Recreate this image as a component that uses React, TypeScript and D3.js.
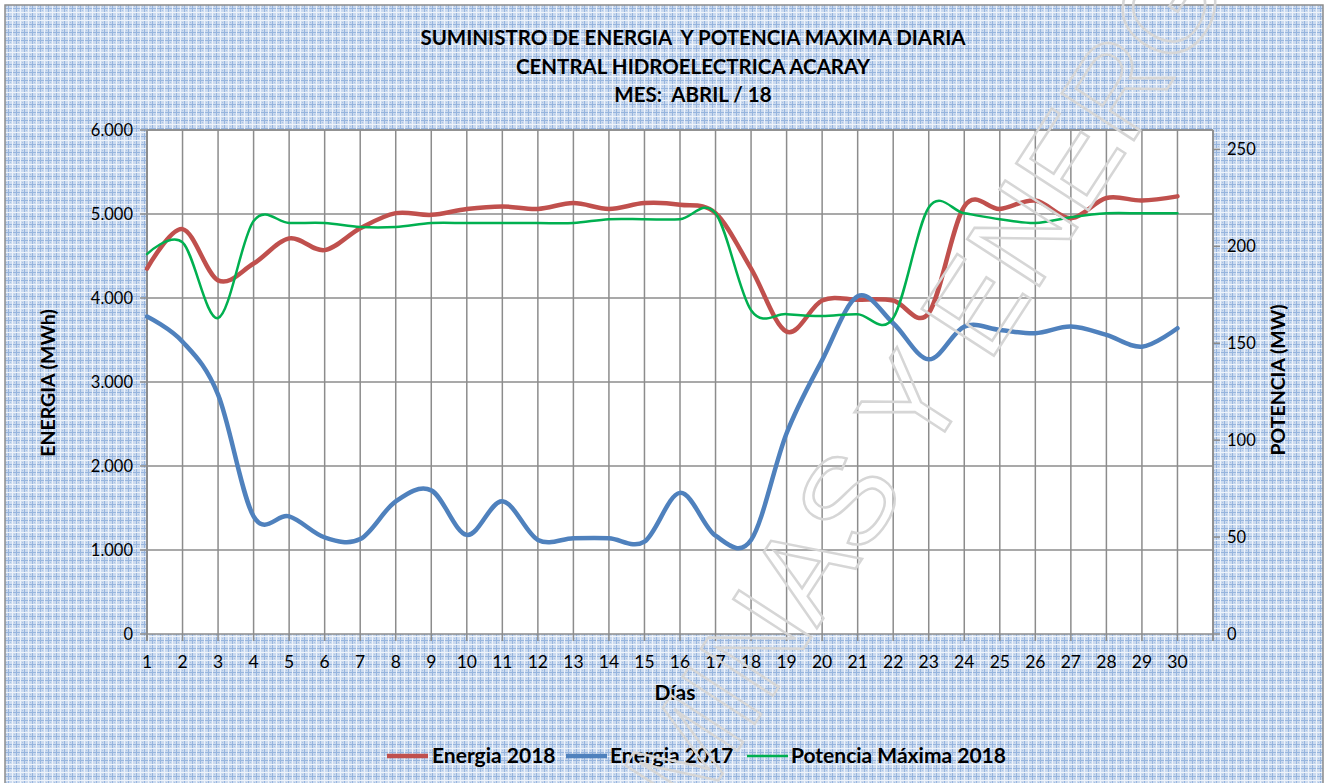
import React from 'react';
import * as d3 from 'd3';

const width = 1329;
const height = 783;

const margin = { left: 147, top: 130, right: 1213, bottom: 634 };

const days = [1, 2, 3, 4, 5, 6, 7, 8, 9, 10, 11, 12, 13, 14, 15, 16, 17, 18, 19, 20, 21, 22, 23, 24, 25, 26, 27, 28, 29, 30];

const energia2018 = [4350, 4820, 4210, 4410, 4710, 4570, 4830, 5010, 4990, 5060, 5090, 5060, 5130, 5060, 5130, 5110, 5010, 4350, 3600, 3970, 3980, 3970, 3820, 5090, 5060, 5160, 4950, 5190, 5160, 5210];
const energia2017 = [3780, 3480, 2850, 1400, 1400, 1150, 1130, 1580, 1710, 1180, 1580, 1120, 1140, 1140, 1100, 1680, 1170, 1120, 2390, 3260, 4020, 3700, 3270, 3660, 3620, 3580, 3660, 3560, 3420, 3640];
const potencia2018 = [196, 202, 163, 213, 212, 212, 210, 210, 212, 212, 212, 212, 212, 214, 214, 214, 217, 167, 165, 164, 165, 163, 220, 217, 214, 212, 215, 217, 217, 217];

const leftTicks = [0, 1000, 2000, 3000, 4000, 5000, 6000];
const rightTicks = [0, 50, 100, 150, 200, 250];

const titleLines = [
  'SUMINISTRO DE ENERGIA  Y POTENCIA MAXIMA DIARIA',
  'CENTRAL HIDROELECTRICA ACARAY',
  'MES:  ABRIL / 18',
];

const font = 'Lato, "Open Sans", sans-serif';

const x = d3.scaleLinear().domain([1, 31]).range([margin.left, margin.right]);
const yL = d3.scaleLinear().domain([0, 6000]).range([margin.bottom, margin.top]);
const yR = d3.scaleLinear().domain([0, 260]).range([margin.bottom, margin.top]);

const fmt = d3.formatLocale({ decimal: ',', thousands: '.', grouping: [3], currency: ['', ''] }).format(',');

const curve = d3.curveCatmullRom.alpha(0);

const lineL = d3.line<number>().x((_, i) => x(days[i])).y((d) => yL(d)).curve(curve);
const lineR = d3.line<number>().x((_, i) => x(days[i])).y((d) => yR(d)).curve(curve);

const series = [
  { name: 'Energia 2018', color: '#C0504D', width: 4.5, lx: 387, tx: 432 },
  { name: 'Energia 2017', color: '#4F81BD', width: 4.5, lx: 566, tx: 610 },
  { name: 'Potencia Máxima 2018', color: '#00B050', width: 2.5, lx: 747, tx: 791 },
];

const gridX = d3.range(1, 32);

const App = () => {
  return (
    <svg width={width} height={height} style={{ position: 'absolute', left: 0, top: 0 }}>
      <defs>
        <pattern id="bg" width="8" height="8" patternUnits="userSpaceOnUse">
          <rect width="8" height="8" fill="#cbdaef" />
          <rect x="0" y="0" width="1" height="8" fill="#97b5de" />
          <rect x="0" y="0" width="8" height="1" fill="#97b5de" />
          <rect x="4" y="0" width="1" height="8" fill="#eef3fa" />
          <rect x="0" y="4" width="8" height="1" fill="#eef3fa" />
          <rect x="2" y="2" width="1" height="1" fill="#a9c2e4" />
          <rect x="6" y="6" width="1" height="1" fill="#a9c2e4" />
        </pattern>
      </defs>
      <rect x={0} y={0} width={width} height={height} fill="#ffffff" />
      <rect x={5} y={5} width={1318} height={800} fill="url(#bg)" stroke="#8c8c8c" strokeWidth={1.5} />

      {/* title */}
      {titleLines.map((t, i) => (
        <text key={i} x={693} y={45 + i * 28.5} textAnchor="middle" fontFamily={font} fontWeight="bold"
          fontSize={20.5} fill="#000" style={{ whiteSpace: 'pre' }}>{t}</text>
      ))}

      {/* plot area */}
      <rect x={margin.left} y={margin.top} width={margin.right - margin.left} height={margin.bottom - margin.top} fill="#fff" />
      {gridX.map((d) => (
        <line key={'gx' + d} x1={x(d)} x2={x(d)} y1={margin.top} y2={margin.bottom + 7} stroke="#8c8c8c" strokeWidth={1.5} />
      ))}
      {leftTicks.map((d) => (
        <line key={'gy' + d} x1={margin.left - 7} x2={margin.right} y1={yL(d)} y2={yL(d)} stroke="#8c8c8c" strokeWidth={1.5} />
      ))}
      <line x1={margin.left} x2={margin.right} y1={margin.top} y2={margin.top} stroke="#8c8c8c" strokeWidth={1.5} />
      <line x1={margin.left} x2={margin.left} y1={margin.top} y2={margin.bottom + 7} stroke="#8c8c8c" strokeWidth={2} />
      <line x1={margin.right} x2={margin.right} y1={margin.top} y2={margin.bottom + 7} stroke="#8c8c8c" strokeWidth={1.5} />
      {rightTicks.map((d) => (
        <line key={'rt' + d} x1={margin.right} x2={margin.right + 7} y1={yR(d)} y2={yR(d)} stroke="#8c8c8c" strokeWidth={1.5} />
      ))}

      {/* axis labels */}
      {leftTicks.map((d) => (
        <text key={'lt' + d} x={133} y={yL(d) + 5.5} textAnchor="end" fontFamily={font} fontSize={16.5} fill="#000">{fmt(d)}</text>
      ))}
      {rightTicks.map((d) => (
        <text key={'rl' + d} x={1227} y={yR(d) + 5.5} fontFamily={font} fontSize={16.5} fill="#000">{d}</text>
      ))}
      {days.map((d) => (
        <text key={'xl' + d} x={x(d)} y={668} textAnchor="middle" fontFamily={font} fontSize={17.5} fill="#000">{d}</text>
      ))}

      <text transform="translate(55,383) rotate(-90)" textAnchor="middle" fontFamily={font} fontWeight="bold" fontSize={19.5} fill="#000">ENERGIA (MWh)</text>
      <text transform="translate(1285,380) rotate(-90)" textAnchor="middle" fontFamily={font} fontWeight="bold" fontSize={19.5} fill="#000">POTENCIA (MW)</text>
      <text x={675} y={700} textAnchor="middle" fontFamily={font} fontWeight="bold" fontSize={21} fill="#000">Días</text>

      {/* series */}
      <path d={lineL(energia2018) ?? ''} fill="none" stroke={series[0].color} strokeWidth={series[0].width} strokeLinecap="round" />
      <path d={lineL(energia2017) ?? ''} fill="none" stroke={series[1].color} strokeWidth={series[1].width} strokeLinecap="round" />
      <path d={lineR(potencia2018) ?? ''} fill="none" stroke={series[2].color} strokeWidth={series[2].width} strokeLinecap="round" />

      {/* legend */}
      {series.map((s) => (
        <g key={s.name}>
          <line x1={s.lx} x2={s.lx + 41} y1={756} y2={756} stroke={s.color} strokeWidth={s.width} />
          <text x={s.tx} y={763} fontFamily={font} fontWeight="bold" fontSize={21} fill="#000">{s.name}</text>
        </g>
      ))}

      {/* watermark */}
      <text transform="translate(848,500) rotate(-57)" x={-354} dy="0.35em" fontFamily='"Liberation Sans", Arial, sans-serif'
        fontSize={125} fill="none" stroke="#d6d6d6" strokeWidth={2.5} style={{ whiteSpace: 'pre' }}>MINAS Y ENERGIA</text>
    </svg>
  );
};

export default App;
